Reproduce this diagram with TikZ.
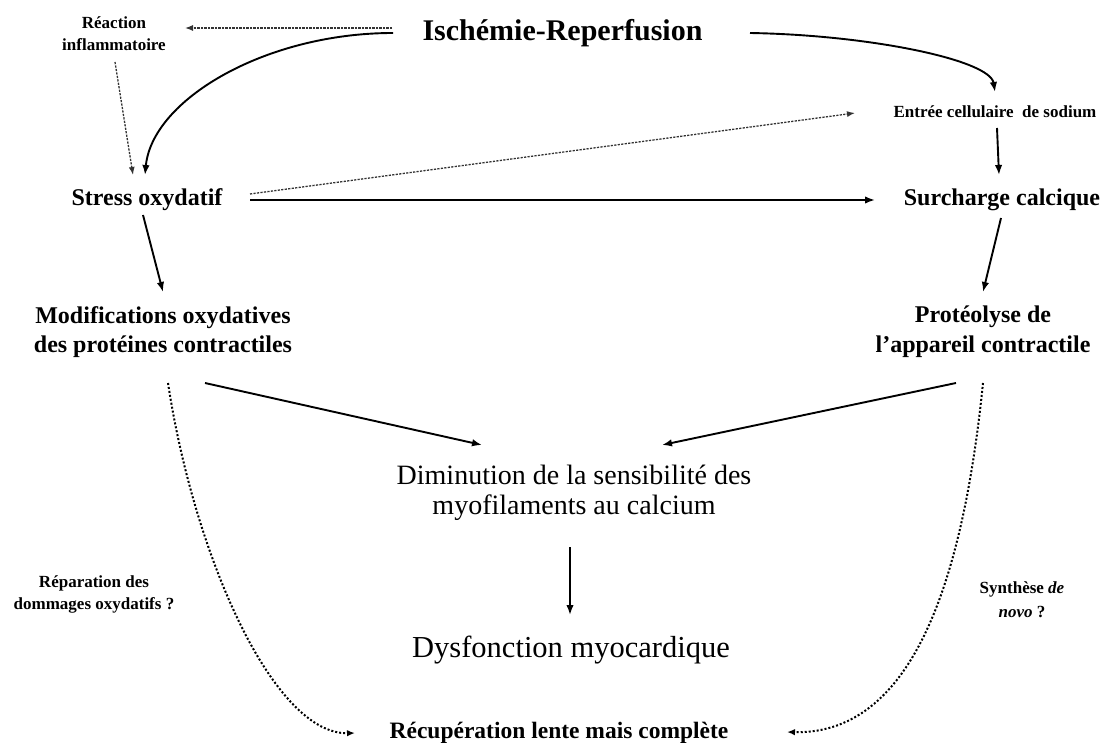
\documentclass[tikz,border=0pt]{standalone}
\usepackage{fontspec}
\setmainfont{Liberation Serif}
\usetikzlibrary{arrows.meta}
\begin{document}
\begin{tikzpicture}[x=1pt,y=1pt,
  lbl/.style={inner sep=0pt,align=center,anchor=center},
  bigb/.style={lbl,font=\fontsize{30}{36}\selectfont\bfseries},
  midb/.style={lbl,font=\fontsize{24}{29}\selectfont\bfseries},
  smallb/.style={lbl,font=\fontsize{17}{22}\selectfont\bfseries},
  midr/.style={lbl,font=\fontsize{28}{30}\selectfont},
  solidarr/.style={line width=1.9pt,-{Latex[length=10pt,width=7.5pt]}},
  dasharr/.style={line width=1.3pt,draw=black!80,dash pattern=on 2.2pt off 1.3pt,-{Latex[length=8pt,width=6pt]}},
  dotarr/.style={line width=2pt,dash pattern=on 2pt off 2pt,-{Latex[length=8pt,width=6.5pt]}}
]
\useasboundingbox[fill=white] (0,0) rectangle (1101,-743);

\node[bigb] (isch) at (562.5,-33) {Ischémie-Reperfusion};
\node[smallb] (reac) at (114,-34) {Réaction\\inflammatoire};
\node[midb] (stress) at (147,-200) {Stress oxydatif};
\node[smallb] (entree) at (995,-112) {Entrée cellulaire\ \ de sodium};
\node[midb] (surch) at (1002,-200) {Surcharge calcique};
\node[lbl,font=\fontsize{24}{29}\selectfont\bfseries] (modif) at (163,-332) {Modifications oxydatives\\des protéines contractiles};
\node[lbl,font=\fontsize{24}{30}\selectfont\bfseries] (proteo) at (983,-332) {Protéolyse de\\l’appareil contractile};
\node[midr] (dimin) at (574,-493) {Diminution de la sensibilité des\\myofilaments au calcium};
\node[lbl,font=\fontsize{30.5}{36}\selectfont] (dysf) at (571,-650) {Dysfonction myocardique};
\node[lbl,font=\fontsize{23.5}{28}\selectfont\bfseries] (recup) at (559,-733) {Récupération lente mais complète};
\node[smallb] (repar) at (94,-594) {Réparation des\\dommages oxydatifs ?};
\node[lbl,font=\fontsize{17}{24}\selectfont\bfseries] (synth) at (1022,-600) {Synthèse \textit{de}\\\textit{novo} ?};

% connectors
\draw[dasharr] ([shift={(-170.5,5)}]isch.center) -- ([shift={(71,6)}]reac.center);
\draw[solidarr] ([shift={(-169.5,0)}]isch.center) .. controls +(-128,0) and +(7,75) .. ([shift={(-2,25)}]stress.center);
\draw[dasharr] ([shift={(1,-28)}]reac.center) -- ([shift={(-14,25)}]stress.center);
\draw[solidarr] ([shift={(187.5,0)}]isch.center) .. controls +(120,-2) and +(-5,32) .. ([shift={(0,20)}]entree.center);
\draw[dasharr] ([shift={(103,6)}]stress.center) -- ([shift={(-140,-1)}]entree.center);
\draw[solidarr] ([shift={(2,-16)}]entree.center) -- ([shift={(-3,25)}]surch.center);
\draw[solidarr] ([shift={(103,0)}]stress.center) -- ([shift={(-127,0)}]surch.center);
\draw[solidarr] ([shift={(-4,-15)}]stress.center) -- ([shift={(0,40)}]modif.center);
\draw[solidarr] ([shift={(-1,-18)}]surch.center) -- ([shift={(0,40)}]proteo.center);
\draw[solidarr] ([shift={(42,-51)}]modif.center) -- ([shift={(-92,48)}]dimin.center);
\draw[solidarr] ([shift={(-27,-51)}]proteo.center) -- ([shift={(88,48)}]dimin.center);
\draw[solidarr] ([shift={(-4,-54)}]dimin.center) -- ([shift={(-1,35)}]dysf.center);
\draw[dotarr] ([shift={(5,-51)}]modif.center) .. controls +(27,-177) and +(-80,-2) .. ([shift={(-204,0)}]recup.center);
\draw[dotarr] ([shift={(0,-51)}]proteo.center) .. controls +(-18,-177) and +(133,-3) .. ([shift={(228,1)}]recup.center);
\end{tikzpicture}
\end{document}
